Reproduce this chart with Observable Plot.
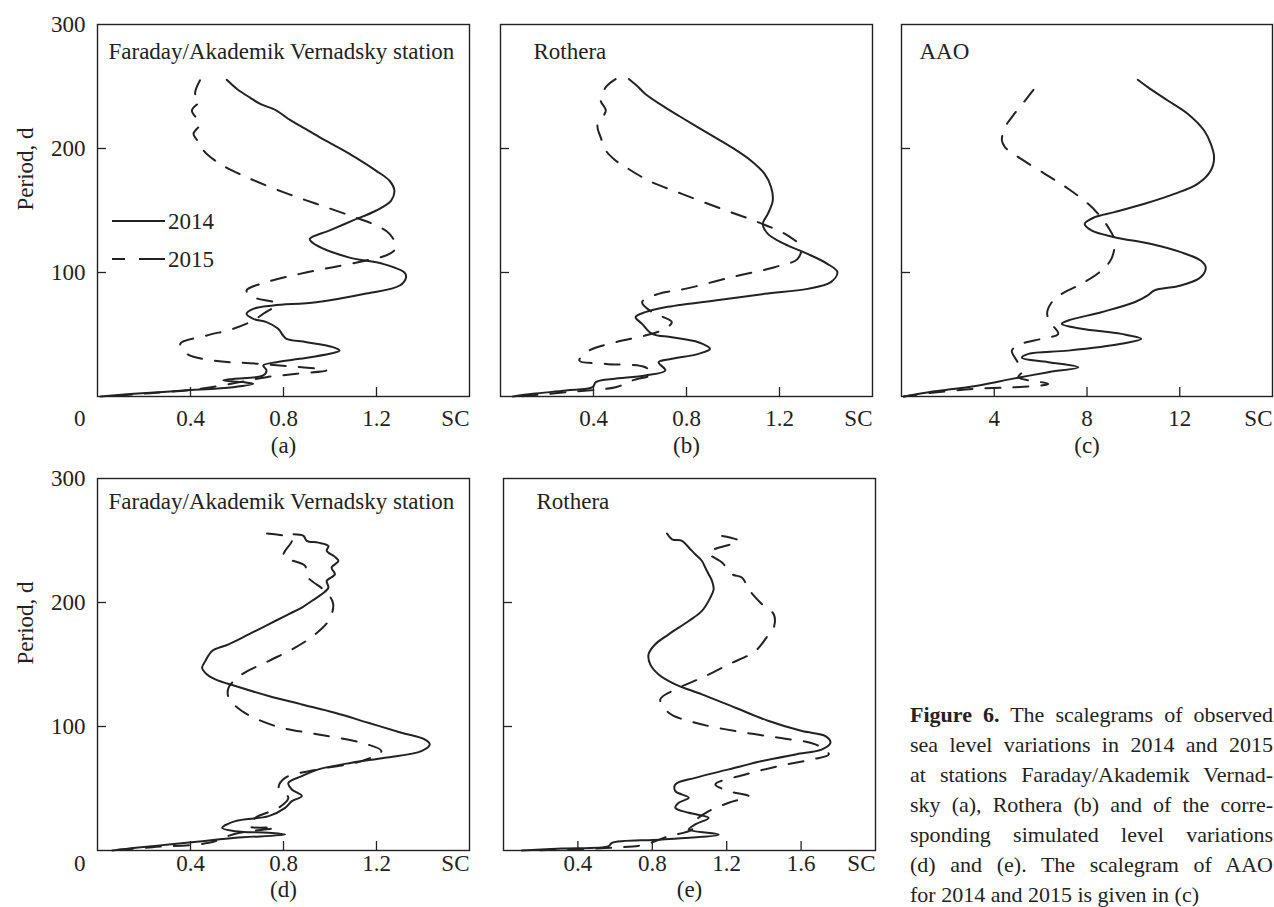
<!DOCTYPE html>
<html>
<head>
<meta charset="utf-8">
<script src="https://cdn.jsdelivr.net/npm/d3@7"></script>
<script src="https://cdn.jsdelivr.net/npm/@observablehq/plot@0.6"></script>
<style>
  html, body { margin: 0; padding: 0; background: #fff; }
  #root { position: relative; width: 1274px; height: 907px; overflow: hidden; font-family: "Liberation Serif", "Times New Roman", serif; color: #222; }
  .panel { position: absolute; }
  #legend { position: absolute; left: 0; top: 0; }
  #caption { position: absolute; left: 910px; top: 700px; width: 363px; font-size: 22px; line-height: 30px; }
  #caption .ln { text-align: justify; text-align-last: justify; white-space: nowrap; }
  #caption .ln.last { text-align-last: left; }
</style>
</head>
<body>
<div id="root">
  <div id="caption">
    <div class="ln"><b>Figure 6.</b> The scalegrams of observed</div>
    <div class="ln">sea level variations in 2014 and 2015</div>
    <div class="ln">at stations Faraday/Akademik Vernad-</div>
    <div class="ln">sky (a), Rothera (b) and of the corre-</div>
    <div class="ln">sponding simulated level variations</div>
    <div class="ln">(d) and (e). The scalegram of AAO</div>
    <div class="ln last">for 2014 and 2015 is given in (c)</div>
  </div>
</div>
<script>
// ---------- data: [period (d), scalegram value SC] ----------
const yTickLabels = [100, 200, 300];
const yTickMarks = [100, 200];
const xTicksA = [0.4, 0.8, 1.2];
const xTicksB = [0.4, 0.8, 1.2];
const xTicksC = [4, 8, 12];
const xTicksD = [0.4, 0.8, 1.2];
const xTicksE = [0.4, 0.8, 1.2, 1.6];
const seriesNames = ["2014", "2015"];
const panelLetters = ["(a)", "(b)", "(c)", "(d)", "(e)"];
const panelTitles = ["Faraday/Akademik Vernadsky station", "Rothera", "AAO", "Faraday/Akademik Vernadsky station", "Rothera"];

const faraday2014 = [[255.4,0.556],[248,0.6],[241,0.656],[236,0.7],[230.6,0.77],[224,0.82],[218.5,0.87],[209,0.956],[195.7,1.084],[182,1.199],[174,1.256],[166,1.277],[158,1.263],[150,1.199],[142,1.099],[134,0.999],[127,0.913],[122,0.941],[112,1.084],[107,1.227],[100,1.32],[96,1.327],[89.5,1.3],[83,1.156],[76,0.941],[73.4,0.756],[70.7,0.67],[66.7,0.641],[62.6,0.67],[60,0.727],[54.6,0.777],[49,0.799],[46.5,0.813],[43.8,0.899],[39.8,1.013],[37,1.041],[34.4,0.999],[30.4,0.87],[27.7,0.77],[25,0.713],[21,0.727],[17,0.713],[14.2,0.584],[12.9,0.541],[11.6,0.627],[10.2,0.67],[7.5,0.584],[4.8,0.37],[2.2,0.156],[0,0.013]];
const faraday2015 = [[255,0.441],[244,0.42],[238.7,0.441],[230.6,0.406],[219.9,0.441],[211.8,0.413],[203.8,0.441],[198.4,0.456],[187.6,0.527],[176.9,0.641],[164.8,0.799],[155.4,0.941],[146,1.084],[137.9,1.199],[131.2,1.256],[120.4,1.284],[115,1.256],[109.7,1.156],[104.3,1.013],[98.9,0.87],[92.2,0.727],[85.5,0.641],[80.1,0.67],[74.7,0.77],[66.7,0.713],[61.3,0.67],[54.6,0.584],[49.2,0.47],[42.5,0.356],[34.4,0.384],[29,0.499],[26.3,0.699],[21,0.984],[18.3,0.856],[15.6,0.727],[11.6,0.613],[6.2,0.441],[2.7,0.227],[0,0.04]];

const rothera2014 = [[256,0.552],[250,0.59],[244,0.623],[233,0.709],[226,0.77],[218.5,0.837],[210.5,0.908],[201,0.994],[190,1.079],[179.6,1.136],[168.8,1.164],[158,1.171],[147.3,1.15],[139.2,1.128],[131.2,1.15],[123,1.221],[115,1.321],[107,1.406],[100.3,1.449],[92.2,1.421],[86.8,1.321],[82.8,1.136],[77.4,0.922],[72,0.709],[68,0.623],[64,0.581],[58.6,0.609],[50.5,0.652],[47.8,0.737],[43.8,0.851],[38.4,0.901],[34.4,0.851],[30.4,0.737],[27.7,0.68],[21,0.709],[17,0.623],[14.2,0.481],[11.6,0.41],[7.5,0.396],[4.8,0.282],[2.2,0.14],[0,0.054]];
const rothera2015 = [[256,0.495],[249.5,0.453],[238.7,0.431],[230.6,0.453],[218.5,0.417],[209,0.431],[198.4,0.453],[190.3,0.495],[185,0.538],[174,0.638],[163.4,0.78],[151.3,0.951],[140.6,1.107],[129.8,1.236],[120.4,1.292],[111,1.278],[104.3,1.179],[96.2,0.994],[86.8,0.794],[82.8,0.68],[76,0.609],[68,0.652],[60,0.737],[54,0.7],[49.2,0.623],[43.8,0.495],[37,0.381],[29,0.339],[26.3,0.453],[23.6,0.623],[18,0.65],[12.9,0.567],[7.5,0.495],[3.5,0.282],[0,0.083]];

const aao2014 = [[255.4,10.19],[249.5,10.62],[238.7,11.48],[228,12.34],[214.5,13.05],[203.8,13.34],[193,13.48],[182.3,13.34],[171.5,12.77],[163.4,11.77],[155.4,10.48],[148.7,9.19],[144.6,8.33],[139.2,7.9],[133.9,8.19],[128.5,9.19],[123,10.77],[116.4,12.05],[109.7,12.9],[104.3,13.12],[96.2,12.9],[89.5,12.05],[85.5,10.9],[81.5,10.62],[76,10.05],[68,8.62],[61.3,7.19],[58.6,6.91],[54.6,7.77],[50.5,9.48],[46.5,10.34],[42.5,9.48],[37,7.19],[34.4,5.47],[31.2,5.19],[27.7,6.33],[23.6,7.62],[19.6,6.33],[14.2,4.76],[8.9,3.33],[3.5,1.18],[0,0.1]];
const aao2015 = [[247.3,5.69],[238.7,5.33],[225.3,4.76],[217.2,4.47],[206.5,4.33],[201,4.47],[193,5.04],[179.6,6.18],[167.5,7.19],[155.4,8.05],[147.3,8.48],[136.6,8.91],[125.8,9.19],[111,9.05],[101.6,8.62],[90.9,7.77],[82.8,6.91],[76,6.48],[66.7,6.28],[58,6.5],[50.5,6.76],[46.5,6.04],[42.5,5.19],[37,4.76],[28,5.0],[20,5.2],[15.6,5.04],[10.2,6.33],[7.5,4.9],[6.2,3.18],[2.7,1.18],[0,0.1]];

const simFaraday2014 = [[255,0.843],[253.7,0.886],[249.7,0.9],[248.3,0.95],[245.6,0.993],[241.6,0.986],[237,1.02],[233.5,1.036],[228.1,1.007],[222.8,1.021],[217.4,0.986],[212,0.993],[206.6,0.964],[201.2,0.921],[195.9,0.879],[190.5,0.821],[182.4,0.736],[174.3,0.65],[166.3,0.564],[160.9,0.493],[152.8,0.464],[147.4,0.45],[142,0.471],[138,0.507],[132.6,0.593],[124.6,0.736],[117.8,0.879],[111.1,1.021],[103,1.164],[95,1.307],[89.6,1.407],[85.6,1.429],[80.2,1.393],[74.8,1.236],[70.8,1.093],[65.4,0.95],[60,0.879],[54.6,0.821],[49.2,0.836],[43.9,0.879],[39.8,0.836],[34.4,0.807],[27.7,0.736],[23.7,0.593],[18.3,0.536],[15.6,0.593],[14.3,0.736],[12.9,0.807],[10.2,0.593],[7.5,0.45],[4.8,0.307],[2.2,0.164],[0,0.064]];
const simFaraday2015 = [[255.6,0.729],[251,0.836],[237.6,0.8],[229.5,0.893],[221.4,0.9],[208,0.986],[198.5,1.014],[185.1,0.993],[174.3,0.936],[163.6,0.85],[152.8,0.736],[142,0.621],[131.3,0.564],[123.2,0.564],[112.5,0.621],[100.4,0.764],[93.6,0.95],[86.9,1.136],[80.2,1.221],[72.1,1.136],[65.4,0.95],[58.6,0.807],[50.6,0.779],[42.5,0.821],[34.4,0.779],[26.4,0.679],[19.6,0.65],[18.3,0.764],[13.5,0.593],[6.2,0.479],[2.7,0.236],[0,0.05]];

const simRothera2014 = [[255.6,0.879],[251,0.906],[249.7,0.96],[244.3,0.996],[238.9,1.031],[233.5,1.067],[228.1,1.085],[222.8,1.103],[217.4,1.121],[210.7,1.13],[203.9,1.112],[193.2,1.067],[185.1,0.996],[174.3,0.888],[166.3,0.816],[158.2,0.78],[150.1,0.789],[142,0.834],[134,0.924],[125.9,1.067],[115.1,1.247],[104.4,1.426],[96.3,1.605],[92.3,1.731],[86.9,1.758],[81.5,1.713],[77.5,1.57],[72.1,1.39],[65.4,1.211],[58.6,1.031],[53.3,0.924],[47.9,0.924],[42.5,0.996],[38.5,0.942],[34.4,0.924],[30.4,0.996],[26.4,1.103],[21,1.031],[16.9,0.996],[12.9,1.157],[8.9,0.852],[6.2,0.583],[3.5,0.565],[1.6,0.314],[0,0.099]];
const simRothera2015 = [[253.7,1.175],[249.7,1.265],[240.2,1.103],[232.2,1.175],[222.8,1.229],[220,1.283],[210.7,1.318],[198.5,1.39],[190.5,1.453],[179.7,1.453],[174.3,1.426],[160.9,1.354],[150.1,1.211],[139.4,1.067],[129.9,0.924],[121.9,0.843],[111.1,0.888],[103,1.031],[96.3,1.247],[90.9,1.48],[85.6,1.677],[77.5,1.749],[73.4,1.659],[68.1,1.48],[61.3,1.3],[53.3,1.139],[47.9,1.211],[43.9,1.318],[38.5,1.211],[31.7,1.103],[23.7,1.031],[16.9,1.013],[11.6,0.888],[4.8,0.762],[2.2,0.583],[0,0.135]];

// ---------- drawing ----------
const INK = "#222";
const FONT = 23;

function drawPanel(o) {
  const fw = o.width - o.mL - o.mR;
  const fh = o.height - o.mT - o.mB;
  const txt = {fontSize: FONT, fill: INK, stroke: null, lineAnchor: "middle"};
  const marks = [
    Plot.frame({stroke: INK, strokeWidth: 1.4}),
    Plot.ruleX(o.xTicks, {x: d => d, insetTop: fh - 9, stroke: INK, strokeWidth: 1.3}),
    Plot.ruleY(yTickMarks, {y: d => d, insetRight: fw - 9, stroke: INK, strokeWidth: 1.3}),
    Plot.line(o.s15, {x: d => d[1], y: d => d[0], stroke: INK, strokeWidth: 2, strokeDasharray: "15,13", curve: "catmull-rom"}),
    Plot.line(o.s14, {x: d => d[1], y: d => d[0], stroke: INK, strokeWidth: 2, curve: "catmull-rom"}),
    Plot.text(o.xTicks, {x: d => d, text: d => String(d), frameAnchor: "bottom", dy: o.tickDy, ...txt}),
    Plot.text(["SC"], {text: d => d, frameAnchor: "bottom-right", textAnchor: "end", dy: o.tickDy, ...txt}),
    Plot.text([o.letter], {text: d => d, frameAnchor: "bottom", dy: o.letterDy, ...txt}),
    Plot.text([o.title], {text: d => d, frameAnchor: "top-left", textAnchor: "start", dx: o.titleDx, dy: o.titleDy, ...txt})
  ];
  if (o.showY) {
    marks.push(Plot.text(yTickLabels, {y: d => d, text: d => String(d), frameAnchor: "left", textAnchor: "end", dx: -12, ...txt}));
    marks.push(Plot.text(["0"], {text: d => d, frameAnchor: "bottom-left", textAnchor: "end", dx: -12, dy: o.tickDy, ...txt}));
    marks.push(Plot.text(["Period, d"], {text: d => d, frameAnchor: "left", dx: -72, rotate: -90, ...txt}));
  }
  const svg = Plot.plot({
    width: o.width, height: o.height,
    marginLeft: o.mL, marginRight: o.mR, marginTop: o.mT, marginBottom: o.mB,
    x: {domain: o.xDomain, axis: null},
    y: {domain: [0, 300], axis: null},
    style: {fontFamily: '"Liberation Serif", "Times New Roman", serif', fontSize: FONT + "px", color: INK, background: "transparent", overflow: "visible"},
    marks
  });
  const wrap = document.createElement("div");
  wrap.className = "panel";
  wrap.style.left = o.left + "px";
  wrap.style.top = o.top + "px";
  wrap.appendChild(svg);
  document.getElementById("root").appendChild(wrap);
}

const topRow = {top: 0, height: 456, mT: 24, mB: 60, tickDy: 22, letterDy: 49, titleDy: 27};
const botRow = {top: 456, height: 451, mT: 22, mB: 57, tickDy: 13, letterDy: 39, titleDy: 23};

drawPanel({...topRow, left: 0, width: 480, mL: 97, mR: 11, xDomain: [0, 1.6], xTicks: xTicksA, s14: faraday2014, s15: faraday2015, letter: panelLetters[0], title: panelTitles[0], titleDx: 11, showY: true});
drawPanel({...topRow, left: 480, width: 402, mL: 20, mR: 10, xDomain: [0, 1.6], xTicks: xTicksB, s14: rothera2014, s15: rothera2015, letter: panelLetters[1], title: panelTitles[1], titleDx: 33, showY: false});
drawPanel({...topRow, left: 882, width: 392, mL: 19, mR: 2, xDomain: [0, 16], xTicks: xTicksC, s14: aao2014, s15: aao2015, letter: panelLetters[2], title: panelTitles[2], titleDx: 18, showY: false});
drawPanel({...botRow, left: 0, width: 480, mL: 97, mR: 11, xDomain: [0, 1.6], xTicks: xTicksD, s14: simFaraday2014, s15: simFaraday2015, letter: panelLetters[3], title: panelTitles[3], titleDx: 11, showY: true});
drawPanel({...botRow, left: 480, width: 400, mL: 23, mR: 5, xDomain: [0, 2.0], xTicks: xTicksE, s14: simRothera2014, s15: simRothera2015, letter: panelLetters[4], title: panelTitles[4], titleDx: 33, showY: false});

// legend (panel a)
const ns = "http://www.w3.org/2000/svg";
const leg = document.createElementNS(ns, "svg");
leg.setAttribute("id", "legend");
leg.setAttribute("width", 260);
leg.setAttribute("height", 300);
const legendRows = [{y: 221, dash: null}, {y: 259, dash: "13,14,26,200"}];
legendRows.forEach((r, i) => {
  const l = document.createElementNS(ns, "line");
  l.setAttribute("x1", 112); l.setAttribute("x2", 165);
  l.setAttribute("y1", r.y); l.setAttribute("y2", r.y);
  l.setAttribute("stroke", INK); l.setAttribute("stroke-width", 2);
  if (r.dash) l.setAttribute("stroke-dasharray", r.dash);
  leg.appendChild(l);
  const t = document.createElementNS(ns, "text");
  t.setAttribute("x", 168); t.setAttribute("y", r.y);
  t.setAttribute("dy", "0.35em");
  t.setAttribute("font-size", FONT);
  t.setAttribute("fill", INK);
  t.setAttribute("font-family", '"Liberation Serif", "Times New Roman", serif');
  t.textContent = seriesNames[i];
  leg.appendChild(t);
});
document.getElementById("root").appendChild(leg);
</script>
</body>
</html>
